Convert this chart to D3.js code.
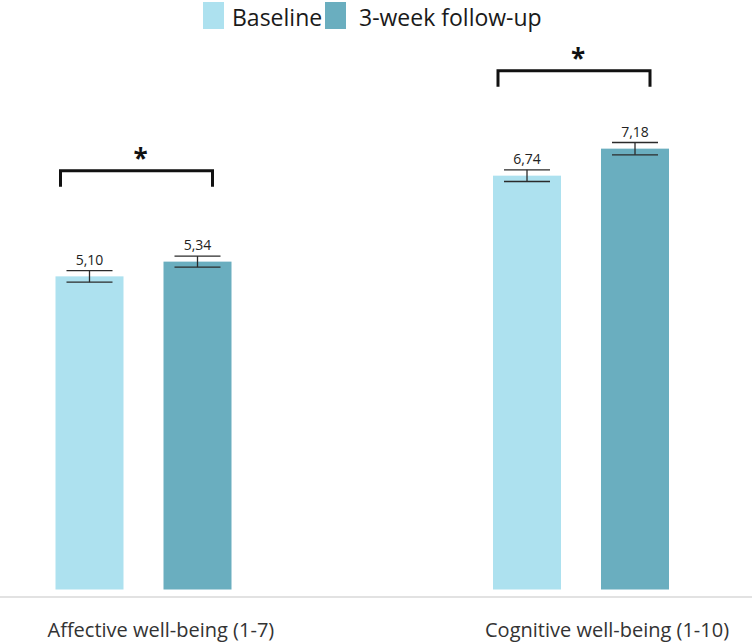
<!DOCTYPE html>
<html><head><meta charset="utf-8">
<script src="https://cdn.jsdelivr.net/npm/d3@7"></script>
<style>body{margin:0;background:#fff;} svg{display:block;font-family:"Open Sans",sans-serif;}</style>
</head><body>
<svg id="c" width="752" height="643"></svg>
<script>
const categories = ["Affective well-being (1-7)", "Cognitive well-being (1-10)"];
const seriesNames = ["Baseline", "3-week follow-up"];
const baselineValues = [5.10, 6.74];
const followupValues = [5.34, 7.18];
const baselineErrors = [0.095, 0.095];
const followupErrors = [0.09, 0.10];
const valueLabels = [["5,10", "5,34"], ["6,74", "7,18"]];
const bracketLevels = [6.82, 8.45];
const colors = ["#ade1ef", "#6aaebf"];

const svg = d3.select("#c");
const y = d3.scaleLinear().domain([0, 10]).range([589.5, 589.5 - 614]);
const x0 = d3.scalePoint().domain(categories).range([143.5, 581]);
const x1 = d3.scalePoint().domain(seriesNames).range([-54, 54]);
const barW = 68;

const rows = categories.map((c, i) => ({
  cat: c, i,
  vals: [
    {s: seriesNames[0], v: baselineValues[i], e: baselineErrors[i], lab: valueLabels[i][0], col: colors[0]},
    {s: seriesNames[1], v: followupValues[i], e: followupErrors[i], lab: valueLabels[i][1], col: colors[1]}
  ]
}));

// axis line
svg.append("line").attr("x1", 0).attr("x2", 752).attr("y1", 597).attr("y2", 597)
  .attr("stroke", "#d9d9d9").attr("stroke-width", 1.5);

const g = svg.selectAll("g.grp").data(rows).join("g").attr("class", "grp")
  .attr("transform", d => `translate(${x0(d.cat)},0)`);

g.selectAll("rect").data(d => d.vals).join("rect")
  .attr("x", d => x1(d.s) - barW / 2).attr("width", barW)
  .attr("y", d => y(d.v)).attr("height", d => y(0) - y(d.v))
  .attr("fill", d => d.col);

// error bars
const eb = g.selectAll("g.eb").data(d => d.vals).join("g").attr("class", "eb")
  .attr("stroke", "#2b2b2b").attr("stroke-width", 1.3);
eb.append("line").attr("x1", d => x1(d.s)).attr("x2", d => x1(d.s))
  .attr("y1", d => y(d.v + d.e)).attr("y2", d => y(d.v - d.e));
eb.append("line").attr("x1", d => x1(d.s) - 23).attr("x2", d => x1(d.s) + 23)
  .attr("y1", d => y(d.v + d.e)).attr("y2", d => y(d.v + d.e));
eb.append("line").attr("x1", d => x1(d.s) - 23).attr("x2", d => x1(d.s) + 23)
  .attr("y1", d => y(d.v - d.e)).attr("y2", d => y(d.v - d.e));

g.selectAll("text.val").data(d => d.vals).join("text").attr("class", "val")
  .attr("x", d => x1(d.s)).attr("y", d => y(d.v + d.e) - 6)
  .attr("text-anchor", "middle").attr("font-size", 14).attr("fill", "#222")
  .text(d => d.lab);

// significance brackets
g.append("path")
  .attr("d", d => {
    const yl = y(bracketLevels[d.i]);
    const xl = x1(seriesNames[0]) - 29, xr = x1(seriesNames[1]) + 15;
    return `M${xl},${yl + 16}V${yl}H${xr}V${yl + 16}`;
  })
  .attr("fill", "none").attr("stroke", "#111").attr("stroke-width", 3);
g.append("text")
  .attr("x", -3).attr("y", d => y(bracketLevels[d.i]) - 3)
  .attr("text-anchor", "middle").attr("font-size", 26).attr("font-weight", "bold").attr("fill", "#111")
  .text("*");

// category labels
g.append("text").attr("x", -96).attr("y", 637)
  .attr("font-size", 20).attr("fill", "#333").text(d => d.cat);

// legend
const leg = svg.append("g");
const legItems = [{s: seriesNames[0], x: 203, tx: 232}, {s: seriesNames[1], x: 325, tx: 359}];
legItems.forEach((it, i) => {
  leg.append("rect").attr("x", it.x).attr("y", 2).attr("width", 21).attr("height", 27).attr("fill", colors[i]);
  leg.append("text").attr("x", it.tx).attr("y", 26).attr("font-size", 23).attr("fill", "#1a1a1a").text(it.s);
});
</script>
</body></html>
